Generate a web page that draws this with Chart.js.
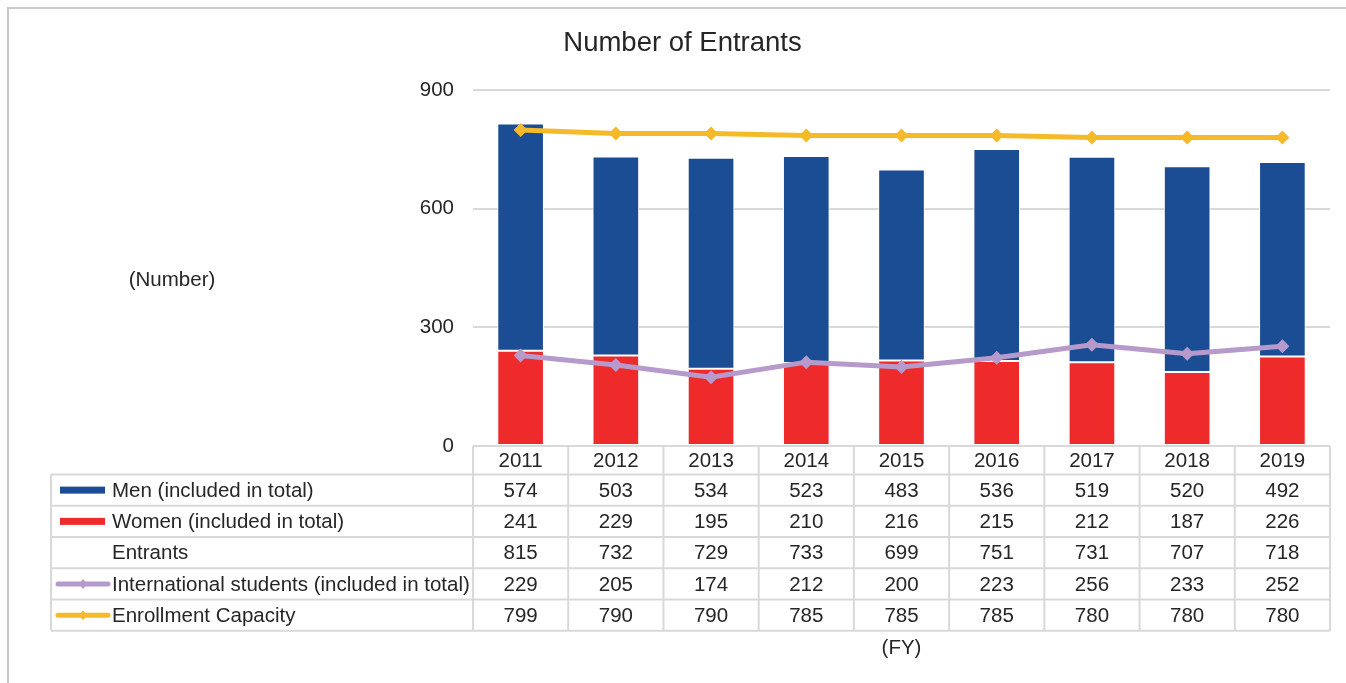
<!DOCTYPE html>
<html>
<head>
<meta charset="utf-8">
<title>Number of Entrants</title>
<script src="https://cdn.jsdelivr.net/npm/chart.js@4.4.0/dist/chart.umd.min.js"></script>
<style>
  html, body { margin: 0; padding: 0; background: #fff; }
  canvas { display: block; }
</style>
</head>
<body>
<canvas id="entrants" width="1346" height="683"></canvas>
<script>
// fiscal years and head counts
const years = ['2011', '2012', '2013', '2014', '2015', '2016', '2017', '2018', '2019'];
const men = [574, 503, 534, 523, 483, 536, 519, 520, 492];
const women = [241, 229, 195, 210, 216, 215, 212, 187, 226];
const entrants = [815, 732, 729, 733, 699, 751, 731, 707, 718];
const international = [229, 205, 174, 212, 200, 223, 256, 233, 252];
const capacity = [799, 790, 790, 785, 785, 785, 780, 780, 780];
const yMax = 900;
const yStep = 300;

const FONT = '"Liberation Sans", Arial, Helvetica, sans-serif';
const TEXT = '#262626';
const GRID = '#D9D9D9';
const BLUE = '#1B4D94';
const RED = '#EE2A2A';
const PURPLE = '#B69ACB';
const GOLD = '#F5BA2A';

// rows of the data table under the plot
const tableRows = [
  { label: 'Men (included in total)', values: men, key: 'bar', color: BLUE },
  { label: 'Women (included in total)', values: women, key: 'bar', color: RED },
  { label: 'Entrants', values: entrants, key: null },
  { label: 'International students (included in total)', values: international, key: 'line', color: PURPLE },
  { label: 'Enrollment Capacity', values: capacity, key: 'line', color: GOLD }
];

Chart.defaults.font.family = FONT;
Chart.defaults.font.size = 20;
Chart.defaults.color = TEXT;

const dataTable = {
  id: 'dataTable',
  beforeDraw(chart) {
    const ctx = chart.ctx;
    // outer frame (left and top edges)
    ctx.save();
    ctx.strokeStyle = '#C9C9C9';
    ctx.lineWidth = 2;
    ctx.beginPath();
    ctx.moveTo(8, chart.height);
    ctx.lineTo(8, 8);
    ctx.lineTo(chart.width, 8);
    ctx.stroke();
    ctx.restore();
  },
  afterDraw(chart) {
    const ctx = chart.ctx;
    const x = chart.scales.x;
    const area = chart.chartArea;
    const tableLeft = 51;
    const headTop = area.bottom;
    const headH = 28.5;
    const rowH = 31.25;
    const bodyTop = headTop + headH;
    const bottom = bodyTop + rowH * tableRows.length;
    const colW = (area.right - area.left) / years.length;

    ctx.save();
    ctx.strokeStyle = GRID;
    ctx.lineWidth = 2;
    ctx.beginPath();
    // horizontal rules
    ctx.moveTo(area.left, headTop);
    ctx.lineTo(area.right, headTop);
    for (let r = 0; r <= tableRows.length; r++) {
      const y = bodyTop + r * rowH;
      ctx.moveTo(tableLeft, y);
      ctx.lineTo(area.right, y);
    }
    // vertical rules
    ctx.moveTo(tableLeft, bodyTop);
    ctx.lineTo(tableLeft, bottom);
    for (let i = 0; i <= years.length; i++) {
      const cx = area.left + i * colW;
      ctx.moveTo(cx, headTop);
      ctx.lineTo(cx, bottom);
    }
    ctx.stroke();

    ctx.fillStyle = TEXT;
    ctx.font = '20.5px ' + FONT;
    ctx.textBaseline = 'middle';
    ctx.textAlign = 'center';
    years.forEach((yr, i) => {
      ctx.fillText(yr, x.getPixelForValue(i), headTop + headH / 2 + 1);
    });

    tableRows.forEach((row, r) => {
      const cy = bodyTop + r * rowH + rowH / 2;
      ctx.textAlign = 'center';
      ctx.fillStyle = TEXT;
      row.values.forEach((v, i) => {
        ctx.fillText(String(v), x.getPixelForValue(i), cy + 1);
      });
      ctx.textAlign = 'left';
      ctx.fillText(row.label, 112, cy + 1);

      // legend key in front of the label
      if (row.key === 'bar') {
        ctx.fillStyle = row.color;
        ctx.fillRect(60, cy - 3.5, 45, 7);
      } else if (row.key === 'line') {
        ctx.strokeStyle = row.color;
        ctx.lineWidth = 5;
        ctx.lineCap = 'round';
        ctx.beginPath();
        ctx.moveTo(58, cy);
        ctx.lineTo(108, cy);
        ctx.stroke();
        ctx.fillStyle = row.color;
        ctx.beginPath();
        ctx.moveTo(83, cy - 5);
        ctx.lineTo(87, cy);
        ctx.lineTo(83, cy + 5);
        ctx.lineTo(79, cy);
        ctx.closePath();
        ctx.fill();
      }
    });

    // unit labels
    ctx.fillStyle = TEXT;
    ctx.textAlign = 'center';
    ctx.fillText('(Number)', 172, 280);
    ctx.fillText('(FY)', (area.left + area.right) / 2, 648);
    ctx.restore();
  }
};

new Chart(document.getElementById('entrants'), {
  type: 'bar',
  data: {
    labels: years,
    datasets: [
      {
        type: 'line',
        label: 'International students (included in total)',
        data: international,
        stack: 'intl',
        order: 0,
        borderColor: PURPLE,
        backgroundColor: PURPLE,
        borderWidth: 5,
        pointStyle: 'rectRot',
        pointRadius: 7,
        pointBorderWidth: 0,
        tension: 0
      },
      {
        type: 'line',
        label: 'Enrollment Capacity',
        data: capacity,
        stack: 'cap',
        order: 0,
        borderColor: GOLD,
        backgroundColor: GOLD,
        borderWidth: 5,
        pointStyle: 'rectRot',
        pointRadius: 7,
        pointBorderWidth: 0,
        tension: 0
      },
      {
        label: 'Women (included in total)',
        data: women,
        order: 1,
        backgroundColor: RED,
        borderColor: '#FFFFFF',
        borderWidth: 1,
        borderSkipped: false,
        barPercentage: 0.49,
        categoryPercentage: 1
      },
      {
        label: 'Men (included in total)',
        data: men,
        order: 1,
        backgroundColor: BLUE,
        borderColor: '#FFFFFF',
        borderWidth: 1,
        borderSkipped: false,
        barPercentage: 0.49,
        categoryPercentage: 1
      }
    ]
  },
  options: {
    responsive: false,
    animation: false,
    layout: { padding: { left: 35, right: 16, top: 0, bottom: 237 } },
    plugins: {
      legend: { display: false },
      tooltip: { enabled: false },
      title: {
        display: true,
        text: 'Number of Entrants',
        color: TEXT,
        font: { size: 27.5, weight: 'normal' },
        padding: { top: 27, bottom: 30 }
      }
    },
    scales: {
      x: { display: false, stacked: true },
      y: {
        stacked: true,
        min: 0,
        max: yMax,
        ticks: { stepSize: yStep, padding: 19, color: TEXT, font: { size: 20.5 } },
        grid: {
          color: c => (c.tick.value === 0 ? 'rgba(0,0,0,0)' : GRID),
          lineWidth: 2,
          drawTicks: false
        },
        border: { display: false },
        afterFit: s => { s.width = 438; }
      }
    }
  },
  plugins: [dataTable]
});
</script>
</body>
</html>
